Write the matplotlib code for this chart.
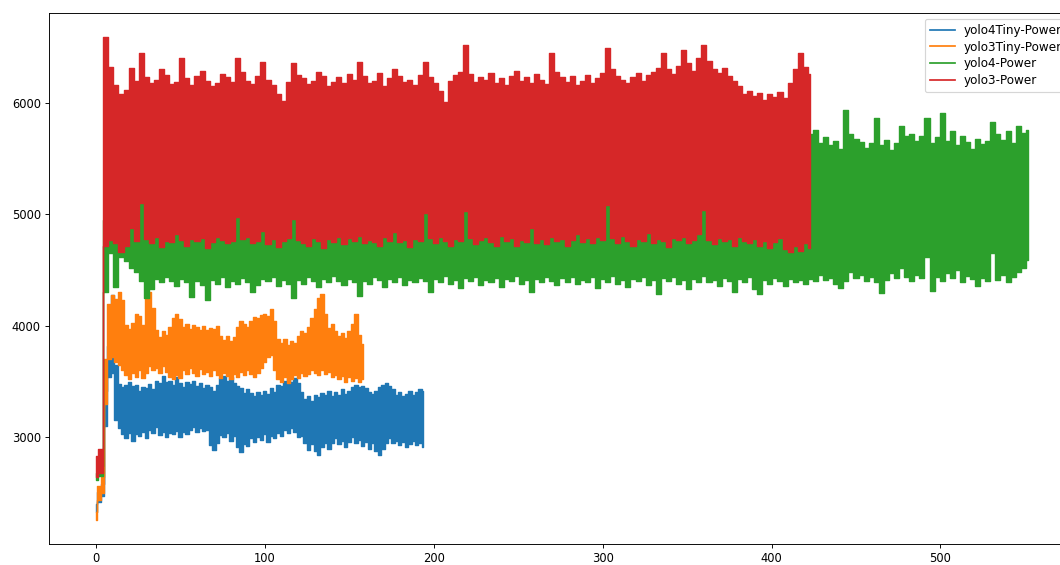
import numpy as np
import matplotlib
matplotlib.use('Agg')
import matplotlib.pyplot as plt
from matplotlib.lines import Line2D
from matplotlib.ticker import MultipleLocator

# power readings per model: lower / upper envelope of the trace at each sample
labels = ['yolo4Tiny-Power', 'yolo3Tiny-Power', 'yolo4-Power', 'yolo3-Power']

# yolo4Tiny, one sample every 2 s
tiny4_step = 2
tiny4_lo = [2330, 2420, 2470, 3100, 3540, 3580, 3160, 3080, 3030, 2990,
            3040, 2970, 3030, 3010, 3050, 2990, 3070, 3040, 3090, 3020,
            3050, 3000, 3040, 3030, 3060, 3000, 3050, 3030, 3070, 3090,
            3050, 3080, 3060, 3070, 2930, 2890, 2950, 3020, 3000, 3040,
            2970, 3010, 2910, 2870, 2940, 2920, 2990, 2960, 3000, 2980,
            3030, 2960, 3010, 2990, 3040, 3010, 3070, 3040, 3080, 3050,
            3000, 3010, 2950, 2890, 2940, 2880, 2840, 2910, 2950, 2900,
            2950, 2990, 2940, 2970, 2910, 2960, 3000, 2950, 2980, 2920,
            2960, 2900, 2950, 2880, 2840, 2900, 2950, 2990, 2950, 2970,
            2930, 2960, 2910, 2940, 2970, 2930, 2950, 2910]
tiny4_hi = [2400, 2510, 2580, 3420, 3820, 4280, 3650, 3480, 3450, 3470,
            3500, 3460, 3470, 3420, 3450, 3440, 3480, 3430, 3510, 3490,
            3550, 3500, 3510, 3470, 3540, 3490, 3450, 3500, 3480, 3510,
            3460, 3490, 3440, 3470, 3450, 3420, 3470, 3530, 3550, 3510,
            3540, 3490, 3460, 3440, 3400, 3430, 3400, 3370, 3410, 3380,
            3420, 3390, 3440, 3410, 3470, 3460, 3510, 3530, 3500, 3530,
            3490, 3410, 3340, 3370, 3330, 3380, 3360, 3400, 3380, 3420,
            3370, 3410, 3380, 3430, 3390, 3420, 3450, 3470, 3450, 3460,
            3440, 3410, 3390, 3420, 3450, 3470, 3490, 3460, 3430, 3380,
            3410, 3370, 3390, 3420, 3380, 3410, 3430, 3420]

# yolo3Tiny, one sample every 2 s
tiny3_step = 2
tiny3_lo = [2260, 2440, 2500, 3300, 3700, 3720, 3680, 3650, 3600, 3560,
            3520, 3580, 3540, 3600, 3530, 3580, 3640, 3600, 3620, 3580,
            3640, 3590, 3540, 3520, 3560, 3530, 3600, 3570, 3620, 3580,
            3550, 3610, 3570, 3590, 3550, 3600, 3560, 3530, 3580, 3550,
            3520, 3570, 3540, 3590, 3560, 3600, 3570, 3540, 3580, 3620,
            3680, 3720, 3740, 3600, 3520, 3500, 3540, 3490, 3520, 3560,
            3530, 3580, 3550, 3570, 3600, 3580, 3560, 3600, 3570, 3590,
            3540, 3560, 3520, 3550, 3500, 3540, 3510, 3530, 3500, 3520]
tiny3_hi = [2330, 2560, 2640, 3700, 4200, 4280, 4240, 4300, 4230, 4010,
            3970, 4030, 4110, 4090, 4010, 4240, 4300, 4160, 3960, 3900,
            3950, 3920, 3990, 4070, 4110, 4060, 3990, 4020, 3970, 4010,
            3990, 3960, 4000, 3960, 3980, 3970, 4000, 3910, 3870, 3910,
            3860, 3900, 3990, 4040, 4020, 3990, 4040, 4080, 4070, 4100,
            4110, 4090, 4150, 4040, 3880, 3850, 3880, 3830, 3860, 3850,
            3910, 3950, 3940, 3990, 4070, 4150, 4250, 4290, 4110, 3980,
            4020, 3950, 3910, 3940, 3890, 3950, 4020, 4110, 3920, 3840]

# yolo4, one sample every 3 s
y4_step = 3
y4_lo = [2620, 2650, 4300, 4650, 4350, 4620, 4580, 4520, 4480, 4400,
         4250, 4330, 4420, 4390, 4440, 4400, 4360, 4420, 4390, 4260,
         4400, 4370, 4230, 4410, 4380, 4440, 4350, 4400, 4380, 4430,
         4390, 4300, 4370, 4420, 4400, 4440, 4360, 4410, 4380, 4250,
         4410, 4380, 4440, 4400, 4350, 4420, 4390, 4450, 4400, 4370,
         4420, 4390, 4270, 4400, 4380, 4440, 4410, 4350, 4420, 4390,
         4440, 4370, 4410, 4390, 4430, 4400, 4300, 4420, 4390, 4450,
         4380, 4410, 4340, 4430, 4400, 4440, 4370, 4410, 4390, 4430,
         4350, 4420, 4400, 4450, 4380, 4410, 4300, 4420, 4390, 4440,
         4400, 4370, 4430, 4390, 4440, 4380, 4410, 4390, 4440, 4340,
         4420, 4390, 4450, 4380, 4410, 4350, 4420, 4400, 4440, 4370,
         4410, 4290, 4430, 4400, 4440, 4380, 4410, 4330, 4420, 4390,
         4450, 4390, 4410, 4360, 4430, 4400, 4300, 4420, 4390, 4440,
         4330, 4290, 4410, 4380, 4430, 4400, 4360, 4420, 4390, 4410,
         4380, 4420, 4400, 4460, 4410, 4430, 4380, 4340, 4400, 4480,
         4430, 4460, 4400, 4440, 4390, 4295, 4410, 4470, 4430, 4520,
         4440, 4400, 4460, 4430, 4620, 4310, 4440, 4400, 4470, 4430,
         4500, 4390, 4450, 4420, 4360, 4430, 4400, 4650, 4410, 4460,
         4390, 4440, 4480, 4520, 4590]
y4_hi = [2680, 2740, 4950,
         5520, 5610, 5450, 5580, 5680, 5490, 5560, 5640, 5420, 5590,
         5530, 5670, 5480, 5600, 5550, 5440, 5620, 5510, 5690, 5570,
         5460, 5630, 5540, 5500, 5660, 5430, 5580, 5610, 5490, 5550,
         5640, 5470, 5590, 5520, 5680, 5450, 5600, 5560, 5410, 5620,
         5530, 5670, 5480, 5590, 5640, 5500, 5570, 5440, 5610, 5550,
         5690, 5460, 5580, 5520, 5630, 5490, 5600, 5540, 5660, 5430,
         5570, 5620, 5480, 5590, 5510, 5650, 5450, 5600, 5560, 5680,
         5470, 5540, 5620, 5500, 5580, 5440, 5640, 5530, 5610, 5490,
         5570, 5660, 5460, 5590, 5520, 5630, 5480, 5600, 5550, 5420,
         5610, 5540, 5670, 5500, 5580, 5450, 5620, 5560, 5490, 5640,
         5530, 5600, 5470, 5590, 5680, 5510, 5570, 5440, 5620, 5550,
         5490, 5660, 5530, 5600, 5460, 5580, 5640, 5500, 5570, 5620,
         5480, 5590, 5540, 5670, 5510, 5600, 5450, 5630, 5560, 5700,
         5580, 5650, 5620, 5700, 5680, 5720, 5690, 5740, 5720,
         5760, 5640, 5690, 5620, 5660, 5590, 5940, 5720, 5680, 5650,
         5600, 5640, 5865, 5620, 5670, 5580, 5640, 5790, 5700, 5720,
         5660, 5700, 5865, 5640, 5690, 5910, 5660, 5750, 5620, 5700,
         5650, 5590, 5680, 5630, 5660, 5830, 5720, 5670, 5750, 5640,
         5790, 5730, 5760]

# yolo3, one sample every 3 s
y3_step = 3
y3_lo = [2640, 2680, 4720, 4770, 4740, 4660, 4720, 4880, 4760, 5100,
         4780, 4740, 4800, 4710, 4760, 4750, 4820, 4770, 4720, 4780,
         4760, 4790, 4700, 4750, 4800, 4770, 4740, 4760, 4980, 4780,
         4800, 4740, 4760, 4850, 4730, 4780, 4710, 4760, 4790, 4960,
         4770, 4740, 4720, 4790, 4760, 4700, 4780, 4750, 4800, 4730,
         4790, 4760, 4810, 4740, 4770, 4750, 4720, 4800, 4760, 4840,
         4750, 4770, 4710, 4780, 4760, 5010, 4790, 4740, 4800, 4760,
         4720, 4780, 4760, 5030, 4790, 4730, 4770, 4800, 4750, 4720,
         4810, 4760, 4790, 4720, 4770, 4750, 4880, 4740, 4780, 4730,
         4800, 4760, 4780, 4720, 4770, 4820, 4750, 4790, 4740, 4800,
         4770, 5080, 4790, 4740, 4810, 4760, 4720, 4780, 4760, 4830,
         4740, 4780, 4760, 4710, 4790, 4770, 4800, 4740, 4770, 4820,
         5040, 4770, 4730, 4790, 4760, 4780, 4720, 4800, 4760, 4740,
         4780, 4720, 4760, 4700, 4750, 4790, 4690, 4660, 4720, 4670,
         4740, 4700]
y3_hi = [2830, 2900, 6590, 6320, 6160, 6080, 6120, 6310, 6200, 6450,
         6230, 6180, 6210, 6300, 6250, 6170, 6190, 6400, 6220, 6160,
         6240, 6290, 6200, 6150, 6180, 6260, 6230, 6190, 6400, 6280,
         6200, 6170, 6240, 6370, 6210, 6160, 6080, 6020, 6190, 6360,
         6250, 6220, 6170, 6200, 6280, 6240, 6150, 6190, 6230, 6180,
         6260, 6210, 6370, 6240, 6180, 6200, 6270, 6150, 6220, 6300,
         6240, 6190, 6210, 6160, 6250, 6370, 6230, 6180, 6110, 6010,
         6200, 6250, 6280, 6520, 6260, 6190, 6230, 6210, 6270, 6180,
         6220, 6160, 6240, 6290, 6200, 6230, 6180, 6260, 6210, 6170,
         6450, 6280, 6230, 6190, 6240, 6160, 6200, 6250, 6180, 6220,
         6270, 6490, 6300, 6240, 6210, 6180, 6230, 6270, 6200, 6250,
         6280, 6310, 6450, 6300, 6260, 6330, 6475, 6360, 6290, 6400,
         6520, 6380, 6300, 6270, 6310, 6240, 6200, 6150, 6080, 6110,
         6060, 6090, 6030, 6080, 6050, 6100, 6040, 6180, 6300, 6450,
         6320, 6260]

colors = ['#1f77b4', '#ff7f0e', '#2ca02c', '#d62728']
traces = [(tiny4_step, tiny4_lo, tiny4_hi),
          (tiny3_step, tiny3_lo, tiny3_hi),
          (y4_step, y4_lo, y4_hi),
          (y3_step, y3_lo, y3_hi)]

DPI = 83
fig = plt.figure(figsize=(1060 / DPI, 565 / DPI), dpi=DPI)
ax = fig.add_axes([49 / 1060, 21 / 565, 1026 / 1060, 531 / 565])

handles = []
for (step, lo, hi), c, lab in zip(traces, colors, labels):
    assert len(lo) == len(hi)
    t = np.arange(len(lo)) * step
    # the raw trace is too dense to read point by point, so draw its min/max band
    ax.fill_between(t, lo, hi, step='mid', facecolor=c, edgecolor=c,
                    linewidth=1.2)
    handles.append(Line2D([], [], color=c, lw=1.5, label=lab))

ax.xaxis.set_major_locator(MultipleLocator(100))
ax.yaxis.set_major_locator(MultipleLocator(1000))
ax.legend(handles=handles, loc='upper right', bbox_to_anchor=(0.998, 1.0),
          fontsize=10.4, labelspacing=0.32, handlelength=2.1,
          handletextpad=0.76)

fig.savefig('out.png', dpi=DPI)
